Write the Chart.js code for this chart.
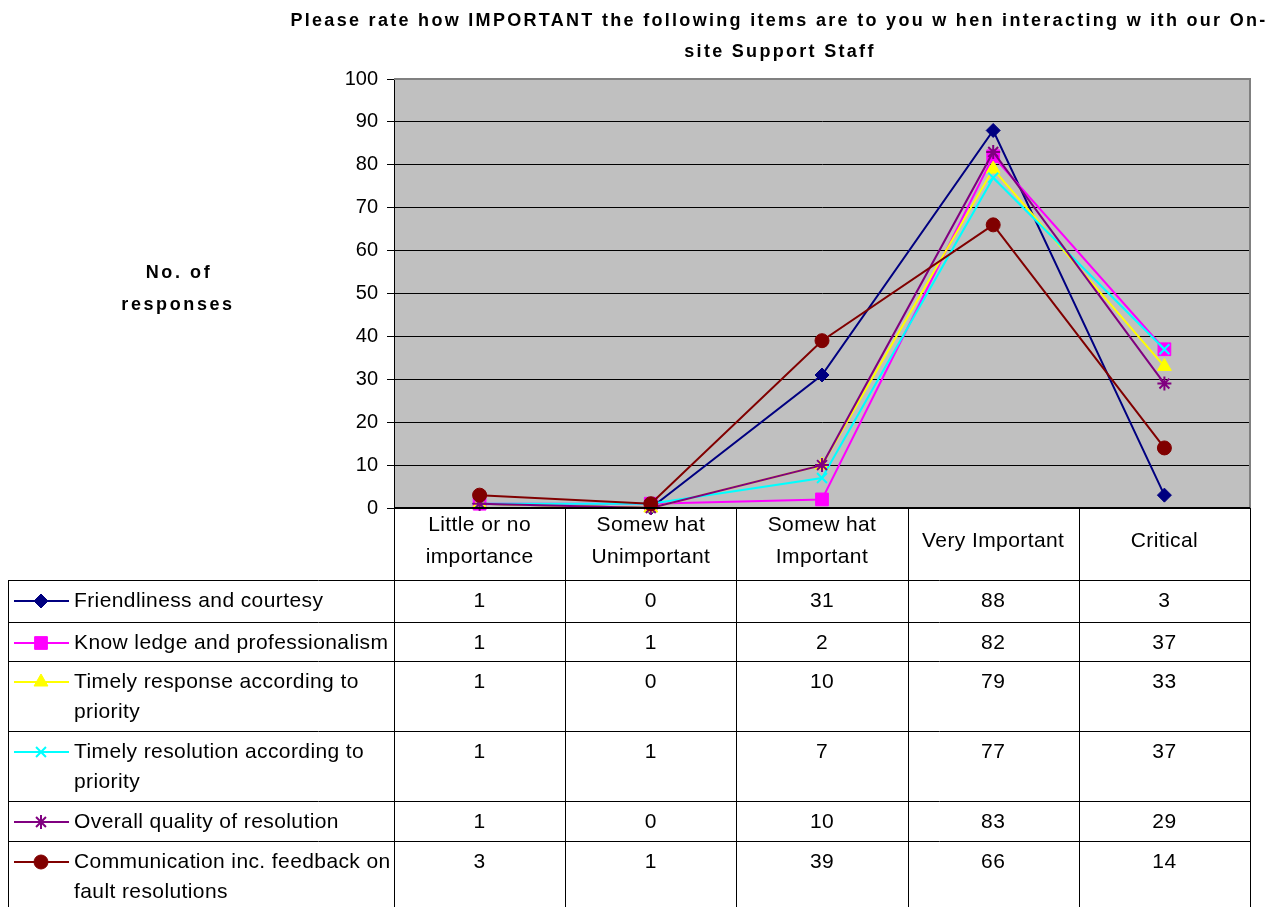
<!DOCTYPE html>
<html>
<head>
<meta charset="utf-8">
<title>On-site Support Staff importance</title>
<script src="https://cdn.jsdelivr.net/npm/chart.js@4.4.1/dist/chart.umd.min.js"></script>
<style>
  body { margin: 0; background: #fff; }
  #wrap { width: 1273px; height: 907px; }
</style>
</head>
<body>
<div id="wrap"><canvas id="chart" width="1273" height="907"></canvas></div>
<script>
const titleLines = ['Please rate how IMPORTANT the following items are to you w hen interacting w ith our On-', 'site Support Staff'];
const yTitleLines = ['No. of', 'responses'];

const categories = [
  ['Little or no', 'importance'],
  ['Somew hat', 'Unimportant'],
  ['Somew hat', 'Important'],
  ['Very Important'],
  ['Critical']
];

const seriesNames = [
  ['Friendliness and courtesy'],
  ['Know ledge and professionalism'],
  ['Timely response according to', 'priority'],
  ['Timely resolution according to', 'priority'],
  ['Overall quality of resolution'],
  ['Communication inc. feedback on', 'fault resolutions']
];

const friendliness = [1, 0, 31, 88, 3];
const knowledge = [1, 1, 2, 82, 37];
const timelyResponse = [1, 0, 10, 79, 33];
const timelyResolution = [1, 1, 7, 77, 37];
const overallQuality = [1, 0, 10, 83, 29];
const communication = [3, 1, 39, 66, 14];

const yTicks = [0, 10, 20, 30, 40, 50, 60, 70, 80, 90, 100];

const seriesValues = [friendliness, knowledge, timelyResponse, timelyResolution, overallQuality, communication];
const colors = ['#000080', '#FF00FF', '#FFFF00', '#00FFFF', '#800080', '#800000'];
const markers = ['rectRot', 'rect', 'triangle', 'crossRot', 'star', 'circle'];
const markerSizes = [7, 9, 8, 7, 7, 7];

const FONT = 'Arial, "Liberation Sans", sans-serif';

// row heights of the data table, first line of text sits 21px under a row's top
const rowHeights = [42, 39, 70, 70, 40, 66];

const datasets = seriesValues.map((vals, i) => ({
  label: seriesNames[i].join(' '),
  data: vals,
  borderColor: colors[i],
  backgroundColor: colors[i],
  borderWidth: 2,
  pointStyle: markers[i],
  pointRadius: markerSizes[i],
  pointBorderColor: colors[i],
  pointBackgroundColor: colors[i],
  pointBorderWidth: (markers[i] === 'crossRot' || markers[i] === 'star') ? 2 : 1,
  tension: 0,
  clip: false,
  order: seriesValues.length - i
}));

function drawMarker(ctx, style, r, x, y, color, bw) {
  ctx.save();
  ctx.strokeStyle = color;
  ctx.fillStyle = color;
  ctx.lineWidth = bw;
  Chart.helpers.drawPoint(ctx, { pointStyle: style, radius: r, borderWidth: bw }, x, y);
  ctx.restore();
}

const extras = {
  id: 'extras',
  beforeDraw(chart) {
    const { ctx, chartArea: a } = chart;
    ctx.save();
    ctx.fillStyle = '#C0C0C0';
    ctx.fillRect(a.left, a.top, a.right - a.left, a.bottom - a.top);
    ctx.restore();
  },
  afterDraw(chart) {
    const { ctx, chartArea: a } = chart;
    const xs = chart.scales.x;
    ctx.save();

    // plot border (top/right grey)
    ctx.strokeStyle = '#808080';
    ctx.lineWidth = 2;
    ctx.beginPath();
    ctx.moveTo(a.left, a.top);
    ctx.lineTo(a.right, a.top);
    ctx.lineTo(a.right, a.bottom);
    ctx.stroke();
    ctx.strokeStyle = '#000';
    ctx.lineWidth = 2;
    ctx.beginPath();
    ctx.moveTo(a.left, a.bottom);
    ctx.lineTo(a.right, a.bottom);
    ctx.stroke();

    // title
    ctx.fillStyle = '#000';
    ctx.textAlign = 'center';
    ctx.textBaseline = 'middle';
    ctx.font = 'bold 18px ' + FONT;
    ctx.letterSpacing = '2.3px';
    ctx.fillText(titleLines[0], 779, 21);
    ctx.fillText(titleLines[1], 780, 52);

    // y axis title
    ctx.letterSpacing = '2.6px';
    ctx.fillText(yTitleLines[0], 179, 273);
    ctx.fillText(yTitleLines[1], 178, 305);
    ctx.letterSpacing = '0px';

    // data table
    const colW = (a.right - a.left) / categories.length;
    const catTop = a.bottom;
    const tableTop = 580;
    const tableLeft = 8;
    let bottom = tableTop;
    rowHeights.forEach(h => bottom += h);

    ctx.strokeStyle = '#000';
    ctx.lineWidth = 1;
    ctx.beginPath();
    for (let c = 0; c <= categories.length; c++) {
      const x = Math.round(a.left + c * colW) + 0.5;
      ctx.moveTo(x, catTop);
      ctx.lineTo(x, bottom);
    }
    ctx.moveTo(tableLeft + 0.5, tableTop);
    ctx.lineTo(tableLeft + 0.5, bottom);
    let y = tableTop;
    ctx.moveTo(tableLeft, y + 0.5);
    ctx.lineTo(a.right, y + 0.5);
    rowHeights.forEach(h => {
      y += h;
      ctx.moveTo(tableLeft, y + 0.5);
      ctx.lineTo(a.right, y + 0.5);
    });
    ctx.stroke();

    ctx.font = '21px ' + FONT;
    ctx.letterSpacing = '0.4px';
    ctx.textBaseline = 'middle';
    ctx.textAlign = 'center';
    categories.forEach((lines, c) => {
      const cx = xs.getPixelForValue(c);
      const y0 = lines.length === 1 ? 541 : 525;
      lines.forEach((t, k) => ctx.fillText(t, cx, y0 + k * 32));
    });

    y = tableTop;
    seriesNames.forEach((lines, s) => {
      const ly = y + 21;
      ctx.strokeStyle = colors[s];
      ctx.lineWidth = 2;
      ctx.beginPath();
      ctx.moveTo(14, ly);
      ctx.lineTo(69, ly);
      ctx.stroke();
      drawMarker(ctx, markers[s], markerSizes[s], 41, ly, colors[s], (markers[s] === 'crossRot' || markers[s] === 'star') ? 2 : 1);

      ctx.fillStyle = '#000';
      ctx.textAlign = 'left';
      lines.forEach((t, k) => ctx.fillText(t, 74, ly + k * 30));
      ctx.textAlign = 'center';
      seriesValues[s].forEach((v, c) => {
        ctx.fillText(String(v), xs.getPixelForValue(c), ly);
      });
      y += rowHeights[s];
    });

    ctx.restore();
  }
};

new Chart(document.getElementById('chart'), {
  type: 'line',
  data: { labels: categories.map(l => l.join(' ')), datasets },
  options: {
    responsive: false,
    animation: false,
    layout: { padding: { top: 79, right: 23, bottom: 399, left: 0 } },
    plugins: {
      legend: { display: false },
      title: { display: false },
      tooltip: { enabled: false }
    },
    scales: {
      x: { display: false, offset: true },
      y: {
        min: 0,
        max: 100,
        afterFit(scale) { scale.width = 394; },
        afterBuildTicks(scale) { scale.ticks = yTicks.map(v => ({ value: v })); },
        ticks: { color: '#000', font: { family: FONT, size: 20 }, padding: 9 },
        grid: { color: '#000', lineWidth: 1, tickLength: 7, drawTicks: true },
        border: { display: true, color: '#000', width: 1 }
      }
    }
  },
  plugins: [extras]
});
</script>
</body>
</html>
